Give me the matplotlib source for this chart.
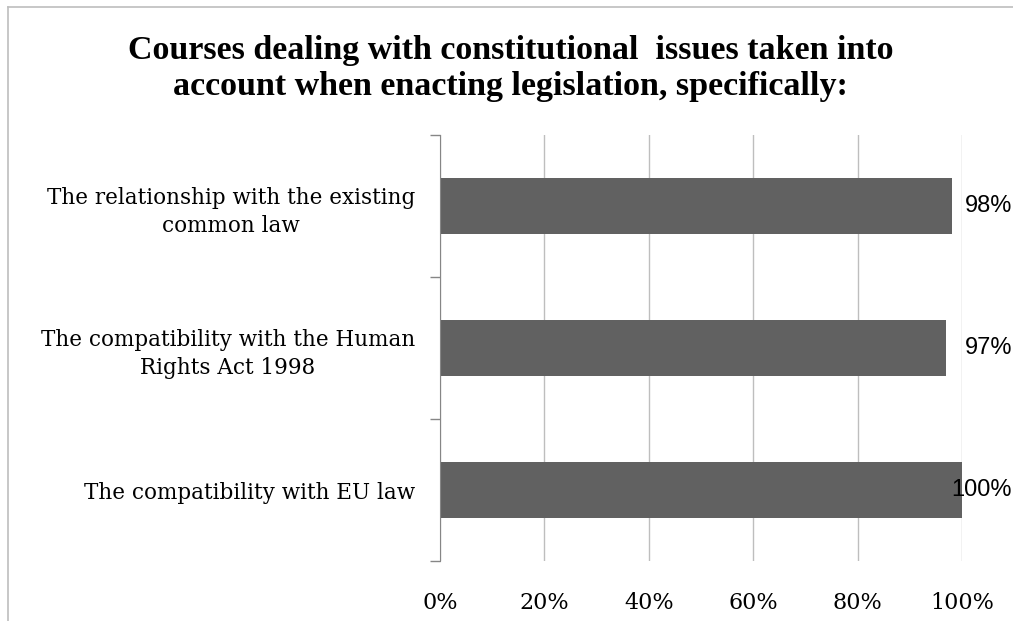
import matplotlib.pyplot as plt
from matplotlib.lines import Line2D
from matplotlib.ticker import FixedLocator, PercentFormatter

# Survey results, listed bottom to top
categories = [
    "The compatibility with EU law",
    "The compatibility with the Human\nRights Act 1998",
    "The relationship with the existing\ncommon law",
]
values = [100, 97, 98]
value_labels = ["100%", "97%", "98%"]
xticks = [0, 20, 40, 60, 80, 100]

title = ("Courses dealing with constitutional  issues taken into\n"
         "account when enacting legislation, specifically:")

serif = "DejaVu Serif"
title_font = "Liberation Serif"
sans = "Liberation Sans"

fig = plt.figure(figsize=(10.13, 6.21), dpi=100)
ax = fig.add_axes([0.4344, 0.0966, 0.5153, 0.686])

# Bars
pos = range(len(categories))
ax.barh(pos, values, height=0.4, color="#616161", zorder=2)

# Value labels: just past the plot edge, or pulled back inside for a full bar
for p, v, lab in zip(pos, values, value_labels):
    lx = 100.6 if v < 100 else 97.9
    ax.text(lx, p, lab, va="center", ha="left",
            fontsize=17, family=sans, color="black", clip_on=False, zorder=4)

ax.set_xlim(0, 100)
ax.set_ylim(-0.5, len(categories) - 0.5)

ax.set_xticks(xticks)
ax.xaxis.set_major_formatter(PercentFormatter(decimals=0))
ax.tick_params(axis="x", length=0, pad=22, labelsize=16)
for t in ax.get_xticklabels():
    t.set_family(serif)

ax.set_yticks(list(pos))
ax.set_yticklabels(categories, fontsize=15.5, family=serif,
                   multialignment="center", linespacing=1.4)
ax.tick_params(axis="y", which="major", length=0, pad=18)
ax.yaxis.set_minor_locator(FixedLocator([-0.5, 0.5, 1.5, 2.5]))
ax.tick_params(axis="y", which="minor", length=7, width=1, color="#868686")

ax.grid(axis="x", color="#BEBEBE", linewidth=1, zorder=0)
for s in ["top", "right", "bottom"]:
    ax.spines[s].set_visible(False)
ax.spines["left"].set_color("#868686")
ax.spines["left"].set_zorder(3)

fig.text(0.504, 0.89, title, ha="center", va="center", fontsize=24.5,
         fontweight="bold", family=title_font, linespacing=1.2)

# Outer chart frame (left and top edges only)
fig.add_artist(Line2D([0.008, 0.008], [0.0, 0.989], color="#BEBEBE", lw=1.2))
fig.add_artist(Line2D([0.008, 1.0], [0.989, 0.989], color="#BEBEBE", lw=1.2))

fig.savefig("out.png", dpi=100)
